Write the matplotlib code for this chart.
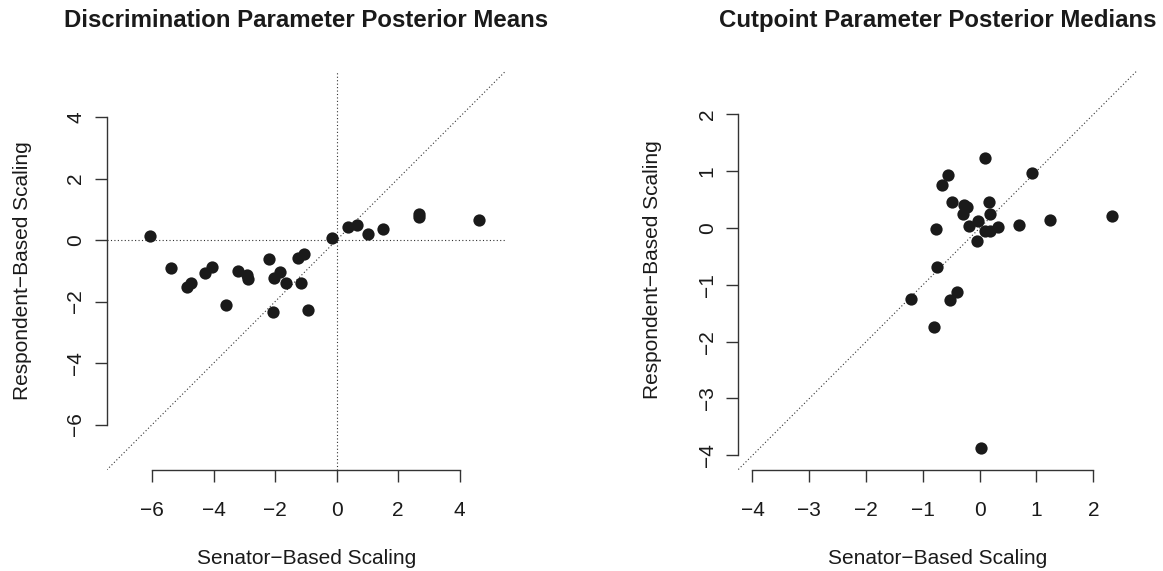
import matplotlib
matplotlib.use("Agg")
import matplotlib.pyplot as plt

plt.rcParams["font.family"] = ["Liberation Sans", "DejaVu Sans"]

# Discrimination parameters: senator-based vs respondent-based posterior means
disc_senator = [-6.06, -5.38, -4.88, -4.74, -4.28, -4.04, -3.60, -3.21, -2.91,
                -2.87, -2.21, -2.03, -1.83, -2.07, -1.65, -1.27, -1.06, -1.16,
                -0.92, -0.16, 0.36, 0.67, 1.01, 1.52, 2.68, 2.68, 4.63]
disc_respondent = [0.13, -0.90, -1.52, -1.41, -1.07, -0.88, -2.10, -1.00, -1.14,
                   -1.28, -0.60, -1.23, -1.05, -2.35, -1.39, -0.59, -0.45, -1.39,
                   -2.27, 0.08, 0.42, 0.48, 0.21, 0.37, 0.85, 0.74, 0.66]

# Cutpoint parameters: senator-based vs respondent-based posterior medians
cut_senator = [0.09, -0.56, -0.66, 0.93, -0.49, -0.27, -0.22, 0.16, -0.30,
               0.19, -0.03, -0.18, -0.77, 0.09, 0.18, 0.33, 0.69, 1.23,
               2.33, -0.04, -0.75, -1.21, -0.40, -0.53, -0.80, 0.02]
cut_respondent = [1.23, 0.93, 0.76, 0.97, 0.45, 0.41, 0.37, 0.46, 0.25,
                  0.24, 0.12, 0.03, -0.01, -0.06, -0.05, 0.02, 0.06, 0.14,
                  0.21, -0.23, -0.68, -1.24, -1.13, -1.27, -1.74, -3.88]

disc_ticks = [-6, -4, -2, 0, 2, 4]
cut_ticks = [-4, -3, -2, -1, 0, 1, 2]

titles = ["Discrimination Parameter Posterior Means",
          "Cutpoint Parameter Posterior Medians"]
xlabel = "Senator\u2212Based Scaling"
ylabel = "Respondent\u2212Based Scaling"

W, H = 1163, 571
fig = plt.figure(figsize=(W / 100, H / 100), dpi=100)


def px_axes(x0, x1, y0, y1):
    return fig.add_axes([x0 / W, 1 - y1 / H, (x1 - x0) / W, (y1 - y0) / H])


INK = "#1a1a1a"
DOT = (0, (1, 2.1))


def style(ax, lim, ticks):
    ax.set_xlim(lim)
    ax.set_ylim(lim)
    ax.set_xticks(ticks)
    ax.set_yticks(ticks)
    for side in ("top", "right"):
        ax.spines[side].set_visible(False)
    for side in ("left", "bottom"):
        ax.spines[side].set_bounds(ticks[0], ticks[-1])
        ax.spines[side].set_linewidth(1.0)
        ax.spines[side].set_color("#333333")
    ax.tick_params(direction="out", length=8.6, width=1.0, color="#333333",
                   labelsize=15, labelcolor=INK)
    ax.tick_params(axis="x", pad=14)
    ax.tick_params(axis="y", pad=7)
    for lab in ax.get_yticklabels():
        lab.set_rotation(90)
        lab.set_va("center")
    ax.axline((0, 0), slope=1, color="#333333", lw=0.8, ls=DOT, zorder=1)
    ax.patch.set_visible(False)


ax1 = px_axes(106.7, 506.0, 70.7, 470.0)
style(ax1, (-7.48, 5.51), disc_ticks)
ax1.axhline(0, color="#333333", lw=0.8, ls=DOT, zorder=1)
ax1.axvline(0, color="#333333", lw=0.8, ls=DOT, zorder=1)
ax1.scatter(disc_senator, disc_respondent, s=78, color=INK, linewidths=0, zorder=3)

ax2 = px_axes(738.3, 1137.0, 70.7, 469.5)
style(ax2, (-4.25, 2.77), cut_ticks)
ax2.scatter(cut_senator, cut_respondent, s=78, color=INK, linewidths=0, zorder=3)

# Titles and axis labels, centred on each plotting region
for ax, title, ylx in ((ax1, titles[0], 22.5), (ax2, titles[1], 652.0)):
    pos = ax.get_position()
    cx = pos.x0 + pos.width / 2
    cy = pos.y0 + pos.height / 2
    fig.text(cx, 1 - 27 / H, title, ha="center", va="baseline",
             fontsize=17.3, fontweight="bold", color=INK)
    fig.text(cx, 1 - 564 / H, xlabel, ha="center", va="baseline",
             fontsize=15, color=INK)
    fig.text(ylx / W, cy, ylabel, ha="center", va="center", rotation=90,
             fontsize=15, color=INK)

fig.savefig("out.png", dpi=100)
